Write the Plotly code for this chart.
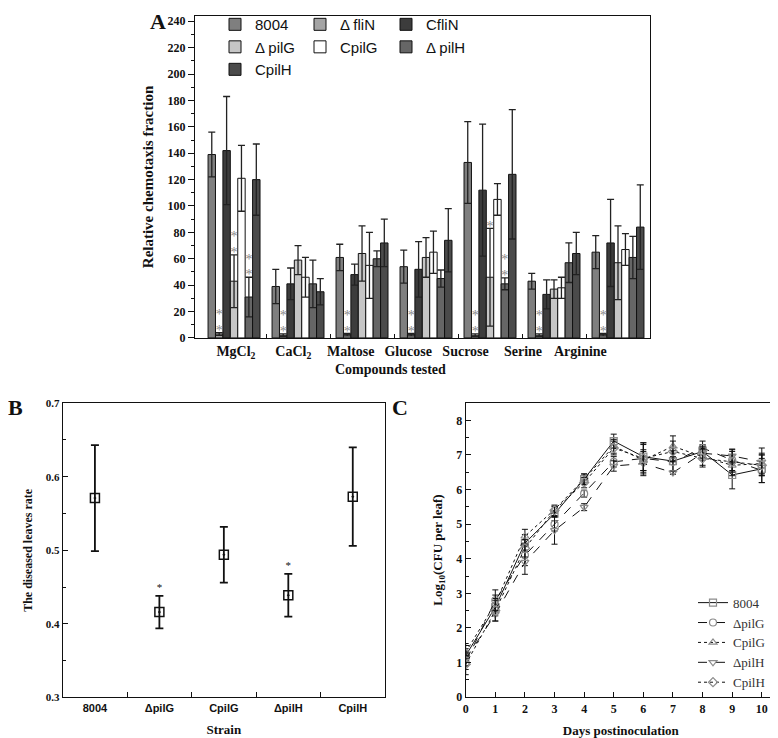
import plotly.graph_objects as go

# ---------------- Panel A data ----------------
compounds = ["MgCl<sub>2</sub>", "CaCl<sub>2</sub>", "Maltose", "Glucose", "Sucrose", "Serine", "Arginine"]
strains_a = ["8004", "Δ fliN", "CfliN", "Δ pilG", "CpilG", "Δ pilH", "CpilH"]

chem_8004 = [139, 39, 61, 54, 133, 43, 65]
err_8004 = [17, 13, 10, 12.5, 31, 6, 12.5]
chem_dflin = [3, 2, 2.5, 2.5, 2, 2, 2.5]
err_dflin = [1, 1, 1, 1, 1, 1, 1]
chem_cflin = [142, 41, 48, 52, 112, 33, 72]
err_cflin = [41, 12, 8, 21, 50, 11, 33]
chem_dpilg = [43, 59, 64, 61, 46, 37, 57]
err_dpilg = [20, 11, 21, 15, 37, 7, 28]
chem_cpilg = [121, 46, 55, 65, 105, 38, 67]
err_cpilg = [25, 15, 25, 16, 12, 8, 12]
chem_dpilh = [31, 41, 60, 45, 41, 57, 61]
err_dpilh = [15, 18, 6, 6.5, 4.5, 15, 16]
chem_cpilh = [120, 35, 72, 74, 124, 64, 84]
err_cpilh = [27, 10, 18, 24, 49, 16, 32]

# number of significance stars per compound
stars_dflin = [2, 2, 2, 2, 2, 2, 2]
stars_dpilg = [2, 0, 0, 0, 1, 0, 0]
stars_dpilh = [2, 0, 0, 0, 2, 0, 0]

# ---------------- Panel B data ----------------
strains_b = ["8004", "ΔpilG", "CpilG", "ΔpilH", "CpilH"]
disease_rate = [0.571, 0.416, 0.494, 0.439, 0.573]
disease_err = [0.072, 0.022, 0.038, 0.029, 0.067]
disease_stars = [0, 1, 0, 1, 0]

# ---------------- Panel C data ----------------
days = [0, 1, 2, 3, 4, 5, 6, 7, 8, 9, 10]
strains_c = ["8004", "ΔpilG", "CpilG", "ΔpilH", "CpilH"]
cfu_8004 = [1.2, 2.6, 4.45, 5.3, 6.3, 7.4, 6.95, 6.82, 7.1, 6.42, 6.6]
cfu_dpilg = [1.0, 2.8, 4.1, 5.0, 5.88, 6.8, 6.9, 6.8, 7.2, 6.85, 6.55]
cfu_cpilg = [1.3, 2.7, 4.65, 5.42, 6.3, 7.25, 6.85, 7.25, 6.95, 6.7, 6.75]
cfu_dpilh = [1.1, 2.4, 3.9, 4.82, 5.49, 6.68, 6.75, 6.49, 7.05, 6.97, 6.8]
cfu_cpilh = [0.95, 2.5, 4.3, 5.4, 6.2, 7.2, 6.9, 7.1, 6.9, 6.8, 6.7]
cfue_8004 = [0.2, 0.25, 0.25, 0.2, 0.15, 0.2, 0.4, 0.3, 0.2, 0.4, 0.4]
cfue_dpilg = [0.2, 0.3, 0.3, 0.2, 0.1, 0.15, 0.45, 0.25, 0.2, 0.3, 0.35]
cfue_cpilg = [0.25, 0.25, 0.2, 0.1, 0.15, 0.2, 0.3, 0.3, 0.25, 0.3, 0.3]
cfue_dpilh = [0.2, 0.2, 0.35, 0.4, 0.1, 0.15, 0.35, 0.05, 0.2, 0.2, 0.4]
cfue_cpilh = [0.3, 0.3, 0.25, 0.15, 0.15, 0.2, 0.4, 0.3, 0.25, 0.3, 0.3]

# page body has an 8px margin: figure is drawn 8px in from the top-left
OFF = 8
W, H = 778 - OFF, 738 - OFF
SERIF = "Liberation Serif"
SANS = "Liberation Sans"
INK = "#111111"

fig = go.Figure()

# ---------------- Panel A ----------------
series_a = [
    (chem_8004, err_8004, "#7f7f7f", "legend"),
    (chem_dflin, err_dflin, "#a4a4a4", "legend2"),
    (chem_cflin, err_cflin, "#3c3c3c", "legend3"),
    (chem_dpilg, err_dpilg, "#c6c6c6", "legend"),
    (chem_cpilg, err_cpilg, "#ffffff", "legend2"),
    (chem_dpilh, err_dpilh, "#666666", "legend3"),
    (chem_cpilh, err_cpilh, "#4b4b4b", "legend"),
]
bw = 0.116
n = len(series_a)
xpos_all = []
for j, (vals, errs, col, leg) in enumerate(series_a):
    xs = [i + (j - (n - 1) / 2) * bw for i in range(len(compounds))]
    xpos_all.append(xs)
    fig.add_trace(go.Bar(
        x=xs, y=vals, width=bw, name=strains_a[j], legend=leg,
        marker=dict(color=col, line=dict(color=INK, width=1)),
        error_y=dict(type="data", array=errs, visible=True, color="#222222", thickness=1.3, width=3.5),
        xaxis="x", yaxis="y",
    ))

star_sets = [(1, chem_dflin, err_dflin, stars_dflin),
             (3, chem_dpilg, err_dpilg, stars_dpilg),
             (5, chem_dpilh, err_dpilh, stars_dpilh)]
sx, sy = [], []
for j, vals, errs, st in star_sets:
    for i in range(len(compounds)):
        for k in range(st[i]):
            sx.append(xpos_all[j][i])
            sy.append(vals[i] + errs[i] + 1 + 12 * k)
fig.add_trace(go.Scatter(x=sx, y=sy, mode="text", text=["*"] * len(sx), showlegend=False,
                         textfont=dict(family=SERIF, size=14, color="#8a8a8a"),
                         textposition="middle center", xaxis="x", yaxis="y", hoverinfo="skip"))

# ---------------- Panel B ----------------
fig.add_trace(go.Scatter(
    x=strains_b, y=disease_rate, mode="markers", showlegend=False,
    marker=dict(symbol="square-open-dot", size=9, color=INK, line=dict(width=1.5)),
    error_y=dict(type="data", array=disease_err, visible=True, color=INK, thickness=1.8, width=4),
    xaxis="x2", yaxis="y2"))
bsx = [s for s, k in zip(strains_b, disease_stars) if k]
bsy = [v + e + 0.01 for v, e, k in zip(disease_rate, disease_err, disease_stars) if k]
fig.add_trace(go.Scatter(x=bsx, y=bsy, mode="text", text=["*"] * len(bsx), showlegend=False,
                         textfont=dict(family=SERIF, size=11, color=INK),
                         xaxis="x2", yaxis="y2", hoverinfo="skip"))

# ---------------- Panel C ----------------
series_c = [
    (cfu_8004, cfue_8004, "solid", "square-open"),
    (cfu_dpilg, cfue_dpilg, "dash", "circle-open"),
    (cfu_cpilg, cfue_cpilg, "dot", "triangle-up-open"),
    (cfu_dpilh, cfue_dpilh, "dash", "triangle-down-open"),
    (cfu_cpilh, cfue_cpilh, "dot", "diamond-open"),
]
for j, (vals, errs, dash, sym) in enumerate(series_c):
    fig.add_trace(go.Scatter(
        x=days, y=vals, mode="lines+markers", name=strains_c[j], legend="legend4",
        line=dict(color=INK, width=1, dash=dash),
        marker=dict(symbol=sym, size=7, color="#8c8c8c", line=dict(width=1.2)),
        error_y=dict(type="data", array=errs, visible=True, color=INK, thickness=1, width=3),
        xaxis="x3", yaxis="y3"))


def px_x(p):
    return (p - OFF) / W


def px_y(p):
    return 1 - (p - OFF) / H


axis_common = dict(showline=True, linecolor=INK, linewidth=1.2, mirror=True,
                   showgrid=False, zeroline=False, automargin=False)

label_pos = [0.03 + 0.897 * i for i in range(len(compounds))]

fig.update_layout(
    width=W, height=H, margin=dict(l=0, r=0, t=0, b=0),
    paper_bgcolor="white", plot_bgcolor="white",
    barmode="overlay", showlegend=True,
    xaxis=dict(domain=[px_x(195), px_x(650)], range=[-0.61, 6.5], anchor="y",
               tickvals=label_pos, ticktext=compounds, ticks="",
               tickfont=dict(family=SERIF, size=14, color=INK, weight="bold"),
               minor=dict(tickvals=[i + 0.5 for i in range(len(compounds) - 1)], ticks="inside",
                          ticklen=4, tickcolor=INK),
               **axis_common),
    yaxis=dict(domain=[px_y(333.5), 1.0], range=[0, 244], anchor="x",
               tick0=0, dtick=20, ticks="outside", ticklen=6, tickcolor=INK,
               minor=dict(dtick=10, ticks="outside", ticklen=3, tickcolor=INK),
               tickfont=dict(family=SERIF, size=12, color=INK, weight="bold"),
               title=dict(text="Relative chemotaxis fraction", font=dict(family=SERIF, size=15, color=INK, weight="bold"),
                          standoff=10),
               **axis_common),
    xaxis2=dict(domain=[px_x(62.7), px_x(385)], range=[-0.5, 4.5], anchor="y2", type="category",
                categoryorder="array", categoryarray=strains_b,
                ticks="inside", tickson="boundaries", ticklen=5, tickcolor=INK,
                tickfont=dict(family=SANS, size=11, color=INK, weight="bold"),
                title=dict(text="Strain", font=dict(family=SERIF, size=13, color=INK, weight="bold"),
                           standoff=12),
                **axis_common),
    yaxis2=dict(domain=[px_y(697), px_y(399.5)], range=[0.3, 0.7], anchor="x2",
                tick0=0.3, dtick=0.1, tickformat=".1f", ticks="inside", ticklen=5, tickcolor=INK,
                minor=dict(dtick=0.05, ticks="inside", ticklen=3, tickcolor=INK),
                tickfont=dict(family=SERIF, size=11, color=INK, weight="bold"),
                title=dict(text="The diseased leaves rate", font=dict(family=SERIF, size=12, color=INK, weight="bold"),
                           standoff=10),
                **axis_common),
    xaxis3=dict(domain=[px_x(465.7), px_x(776)], range=[0, 10.48], anchor="y3",
                tick0=0, dtick=1, ticks="inside", ticklen=5, tickcolor=INK,
                tickfont=dict(family=SERIF, size=12, color=INK, weight="bold"),
                title=dict(text="Days postinoculation", font=dict(family=SERIF, size=13, color=INK, weight="bold"),
                           standoff=14),
                **axis_common),
    yaxis3=dict(domain=[px_y(696.7), px_y(399.3)], range=[0, 8.5], anchor="x3",
                tick0=0, dtick=1, ticks="inside", ticklen=5, tickcolor=INK,
                minor=dict(dtick=0.5, ticks="inside", ticklen=3, tickcolor=INK),
                tickfont=dict(family=SERIF, size=12, color=INK, weight="bold"),
                title=dict(text="Log<sub>10</sub>(CFU per leaf)", font=dict(family=SERIF, size=13, color=INK, weight="bold"),
                           standoff=10),
                **axis_common),
    legend=dict(x=px_x(215), y=px_y(0), xanchor="left", yanchor="top", bgcolor="rgba(0,0,0,0)",
                font=dict(family=SANS, size=15, color=INK), tracegroupgap=0),
    legend2=dict(x=px_x(300), y=px_y(0), xanchor="left", yanchor="top", bgcolor="rgba(0,0,0,0)",
                 font=dict(family=SANS, size=15, color=INK), tracegroupgap=0),
    legend3=dict(x=px_x(386), y=px_y(0), xanchor="left", yanchor="top", bgcolor="rgba(0,0,0,0)",
                 font=dict(family=SANS, size=15, color=INK), tracegroupgap=0),
    legend4=dict(x=px_x(693), y=px_y(586), xanchor="left", yanchor="top", bgcolor="rgba(0,0,0,0)",
                 font=dict(family=SERIF, size=13, color="#333333"), tracegroupgap=0),
    annotations=[
        dict(text="<b>Compounds tested</b>", x=px_x(390), y=px_y(365), xref="paper", yref="paper",
             showarrow=False, xanchor="center", yanchor="middle",
             font=dict(family=SERIF, size=14, color=INK)),
        dict(text="<b>A</b>", x=px_x(158), y=px_y(14), xref="paper", yref="paper", showarrow=False,
             xanchor="center", yanchor="middle", font=dict(family=SERIF, size=22, color=INK)),
        dict(text="<b>B</b>", x=px_x(15), y=px_y(404), xref="paper", yref="paper", showarrow=False,
             xanchor="center", yanchor="middle", font=dict(family=SERIF, size=22, color=INK)),
        dict(text="<b>C</b>", x=px_x(400), y=px_y(404), xref="paper", yref="paper", showarrow=False,
             xanchor="center", yanchor="middle", font=dict(family=SERIF, size=22, color=INK)),
    ],
)

fig.write_html("out.html")
